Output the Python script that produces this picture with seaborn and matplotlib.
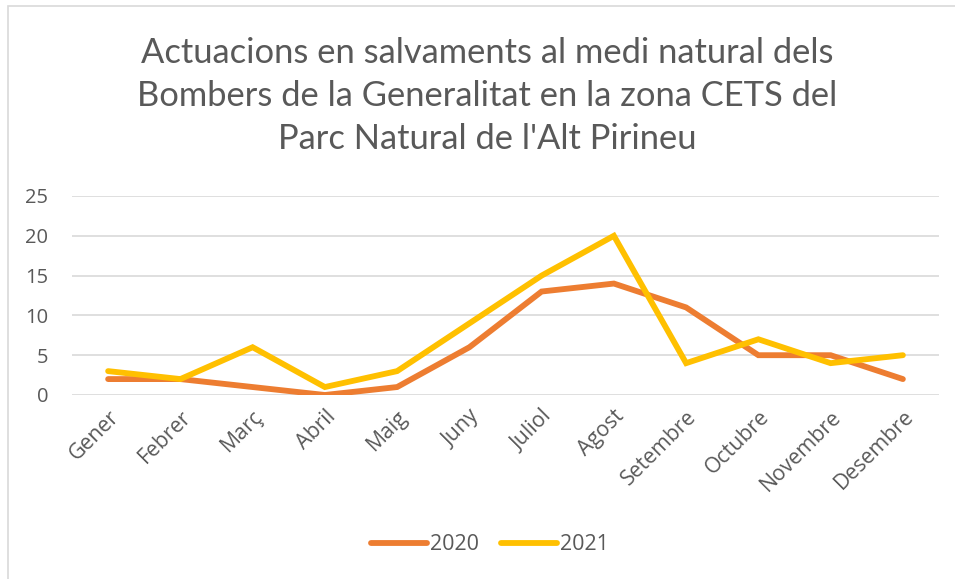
import matplotlib
matplotlib.use("Agg")
import matplotlib.pyplot as plt
import seaborn as sns
import pandas as pd
from matplotlib.patches import Rectangle
from matplotlib.lines import Line2D

months = ["Gener", "Febrer", "Març", "Abril", "Maig", "Juny", "Juliol",
          "Agost", "Setembre", "Octubre", "Novembre", "Desembre"]
vals_2020 = [2, 2, 1, 0, 1, 6, 13, 14, 11, 5, 5, 2]
vals_2021 = [3, 2, 6, 1, 3, 9, 15, 20, 4, 7, 4, 5]
series_names = ["2020", "2021"]
colors = ["#ED7D31", "#FFC000"]
yticks = [0, 5, 10, 15, 20, 25]
title = ("Actuacions en salvaments al medi natural dels\n"
         "Bombers de la Generalitat en la zona CETS del\n"
         "Parc Natural de l'Alt Pirineu")

df = pd.DataFrame({
    "Mes": months * 2,
    "Valor": vals_2020 + vals_2021,
    "Any": [series_names[0]] * 12 + [series_names[1]] * 12,
})

sns.set_theme(style="white")
plt.rcParams["font.family"] = ["Open Sans", "DejaVu Sans"]
txt = "#595959"

W, H = 955, 579
fig = plt.figure(figsize=(W / 100, H / 100), dpi=100)
ax = fig.add_axes([72 / W, 1 - 395 / H, (939 - 72) / W, (395 - 196) / H])

sns.lineplot(data=df, x="Mes", y="Valor", hue="Any", palette=colors,
             linewidth=4.2, ax=ax, sort=False, legend=False,
             solid_capstyle="round", solid_joinstyle="miter")

ax.set_xlim(-0.5, len(months) - 0.5)
ax.set_ylim(0, 25)
ax.set_yticks(yticks)
ax.yaxis.grid(True, color="#D9D9D9", linewidth=1.2)
ax.set_axisbelow(True)
for s in ax.spines.values():
    s.set_visible(False)
ax.set_xlabel("")
ax.set_ylabel("")
ax.tick_params(axis="y", length=0, pad=17, labelsize=14.5, labelcolor=txt)
ax.tick_params(axis="x", length=0, pad=8, labelsize=15.3, labelcolor=txt)
ax.set_xticks(range(len(months)))
ax.set_xticklabels(months, rotation=45, ha="right", rotation_mode="anchor")

fig.text(487 / W, 1 - 96 / H, title, ha="center", va="center",
         fontsize=24.8, color=txt, linespacing=1.42,
         family=["Lato", "DejaVu Sans"])

handles = [Line2D([0], [0], color=c, lw=4.2, solid_capstyle="round")
           for c in colors]
leg = fig.legend(handles, series_names, loc="center",
                 bbox_to_anchor=(490 / W, 1 - 545 / H), ncol=2, frameon=False,
                 fontsize=15.5, handlelength=2.6, handletextpad=0.15,
                 columnspacing=1.0)
for t in leg.get_texts():
    t.set_color(txt)

fig.patches.append(Rectangle((7.5 / W, 0 - 0.01), 1.0, 1 - 6.5 / H + 0.01,
                             transform=fig.transFigure, fill=False,
                             edgecolor="#D9D9D9", linewidth=1.2))

fig.savefig("out.png", dpi=100)
